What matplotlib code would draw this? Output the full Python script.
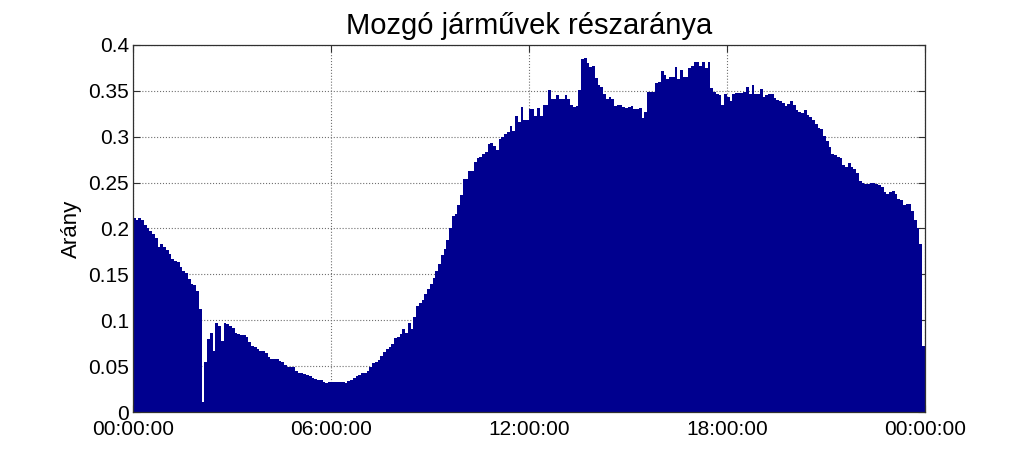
import numpy as np
import matplotlib
matplotlib.use("Agg")
from matplotlib import pyplot as plt

# share of moving vehicles, 5-minute bins over one day (288 bins)
night = [0.211, 0.209, 0.211, 0.209, 0.204, 0.200, 0.197, 0.194, 0.190, 0.180,
         0.183, 0.180, 0.177, 0.172, 0.167, 0.165, 0.163, 0.158, 0.154, 0.151,
         0.145, 0.140, 0.138, 0.132, 0.112, 0.011, 0.055, 0.080, 0.086, 0.067,
         0.097, 0.094, 0.077, 0.097, 0.096, 0.094, 0.092, 0.086, 0.085, 0.084,
         0.084, 0.082, 0.076, 0.072, 0.071, 0.069, 0.067, 0.066, 0.064, 0.060,
         0.058, 0.058, 0.058, 0.056, 0.054, 0.051, 0.049, 0.049]
early = [0.049, 0.045, 0.043, 0.042, 0.041, 0.040, 0.039, 0.037, 0.036, 0.035,
         0.035, 0.033, 0.032, 0.033, 0.033, 0.033, 0.033, 0.033, 0.033, 0.032,
         0.034, 0.035, 0.037, 0.039, 0.040, 0.042, 0.043, 0.045, 0.049, 0.053,
         0.054, 0.057, 0.061, 0.065, 0.069, 0.071, 0.074, 0.081, 0.082, 0.085,
         0.090, 0.086, 0.097, 0.090, 0.104, 0.116, 0.119, 0.122, 0.129, 0.134,
         0.139, 0.146, 0.154, 0.161, 0.171, 0.178, 0.187, 0.201]
midday = [0.214, 0.216, 0.226, 0.236, 0.254, 0.254, 0.263, 0.263, 0.272, 0.277,
          0.278, 0.281, 0.283, 0.292, 0.293, 0.290, 0.286, 0.298, 0.300, 0.303,
          0.305, 0.312, 0.306, 0.323, 0.316, 0.332, 0.318, 0.318, 0.330, 0.330,
          0.323, 0.331, 0.323, 0.335, 0.334, 0.351, 0.341, 0.341, 0.345, 0.341,
          0.341, 0.345, 0.341, 0.334, 0.332, 0.333, 0.351, 0.385, 0.386, 0.380,
          0.376, 0.377, 0.364, 0.356, 0.354, 0.347, 0.341, 0.343]
afternoon = [0.341, 0.333, 0.334, 0.335, 0.332, 0.331, 0.332, 0.333, 0.330, 0.330,
             0.331, 0.320, 0.327, 0.349, 0.349, 0.349, 0.359, 0.360, 0.372, 0.367,
             0.363, 0.365, 0.365, 0.376, 0.363, 0.373, 0.365, 0.365, 0.375, 0.377,
             0.381, 0.381, 0.377, 0.381, 0.375, 0.381, 0.353, 0.349, 0.347, 0.345,
             0.335, 0.346, 0.343, 0.339, 0.346, 0.348, 0.348, 0.348, 0.349, 0.354,
             0.346, 0.356, 0.346, 0.346, 0.352, 0.343, 0.345, 0.347]
evening = [0.347, 0.342, 0.340, 0.339, 0.337, 0.333, 0.336, 0.339, 0.334, 0.329,
           0.327, 0.326, 0.329, 0.324, 0.321, 0.318, 0.314, 0.309, 0.308, 0.301,
           0.295, 0.289, 0.281, 0.280, 0.278, 0.277, 0.269, 0.267, 0.271, 0.267,
           0.265, 0.260, 0.252, 0.250, 0.249, 0.248, 0.250, 0.250, 0.249, 0.247,
           0.245, 0.240, 0.238, 0.240, 0.241, 0.238, 0.232, 0.231, 0.226, 0.227,
           0.227, 0.219, 0.209, 0.200, 0.183, 0.072]

tick_hours = [0, 6, 12, 18, 24]
tick_labels = ["00:00:00", "06:00:00", "12:00:00", "18:00:00", "00:00:00"]
ytick_vals = [0, 0.05, 0.1, 0.15, 0.2, 0.25, 0.3, 0.35, 0.4]
ytick_labels = ["0", "0.05", "0.1", "0.15", "0.2", "0.25", "0.3", "0.35", "0.4"]

ratio = np.array(night + early + midday + afternoon + evening)
hours = np.arange(len(ratio)) / 12.0

plt.rcParams['font.family'] = ['Liberation Sans', 'DejaVu Sans']

fig = plt.figure(figsize=(10.23, 4.70), dpi=100)
ax = fig.add_axes([0.130, 0.1234, 0.774, 0.781])

ax.bar(hours, ratio, width=1 / 12.0, align='edge', color='#00008f', linewidth=0)

ax.set_xlim(0, 24)
ax.set_ylim(0, 0.4)
ax.set_xticks(tick_hours)
ax.set_xticklabels(tick_labels)
ax.set_yticks(ytick_vals)
ax.set_yticklabels(ytick_labels)

ax.set_axisbelow(True)
ax.grid(True, linestyle=':', color='#707070', linewidth=0.8)
ax.tick_params(direction='in', top=True, right=True, length=5, labelsize=15,
               color='#303030')
ax.tick_params(axis='x', pad=6)
ax.tick_params(axis='y', pad=3)
for s in ax.spines.values():
    s.set_color('#303030')
    s.set_linewidth(0.9)

ax.set_ylabel("Arány", fontsize=16, labelpad=4)
ax.set_title("Mozgó járművek részaránya", fontsize=21, pad=8)

fig.savefig("out.png", dpi=100)
